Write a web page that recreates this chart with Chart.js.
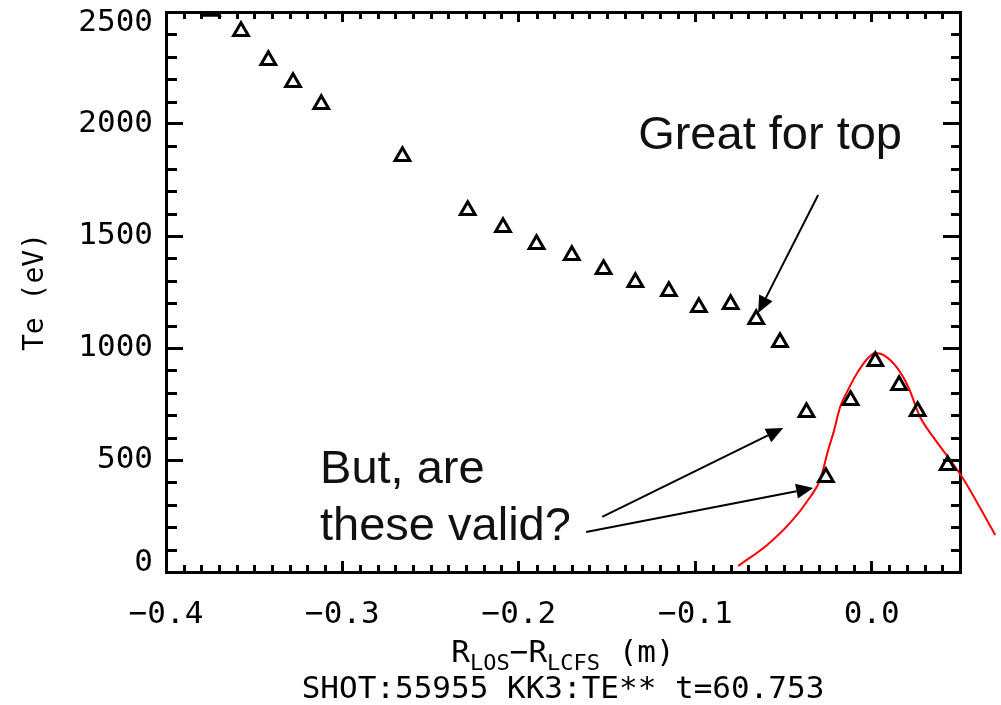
<!DOCTYPE html>
<html><head><meta charset="utf-8">
<script src="https://cdn.jsdelivr.net/npm/chart.js@4.4.0/dist/chart.umd.min.js"></script>
<style>html,body{margin:0;padding:0;background:#fff;overflow:hidden}#wrap{width:1001px;height:705px}</style>
</head><body><div id="wrap"><canvas id="c" width="1001" height="705"></canvas></div>
<script>
// ---- data ----
const xTickValues = [-0.4, -0.3, -0.2, -0.1, 0.0];
const xTickLabels = ['\u22120.4', '\u22120.3', '\u22120.2', '\u22120.1', '0.0'];
const yTickValues = [0, 500, 1000, 1500, 2000, 2500];
const yTickLabels = ['0', '500', '1000', '1500', '2000', '2500'];

const radius = [-0.374, -0.3575, -0.342, -0.328, -0.312, -0.266, -0.229, -0.209, -0.190, -0.170,
                -0.152, -0.134, -0.115, -0.098, -0.080, -0.0655, -0.052, -0.037, -0.026, -0.012,
                0.002, 0.0155, 0.026, 0.043];
const te = [2505, 2414, 2285, 2186, 2088, 1856, 1615, 1539, 1463, 1414,
            1352, 1293, 1253, 1182, 1195, 1128, 1026, 713, 423, 767,
            941, 834, 718, 477];

const fitRadius = [-0.0757, -0.0593, -0.0463, -0.0349, -0.0293, -0.0247, -0.0218, -0.0179, -0.014, -0.0083,
                   -0.0026, 0.0019, 0.0065, 0.0144, 0.0207, 0.0274, 0.0348, 0.0444, 0.0512, 0.0700];
const fitTe = [27, 121, 219, 335, 411, 545, 620, 737, 804, 888,
               951, 978, 969, 911, 826, 692, 603, 500, 424, 165];

const X_MIN = -0.4, X_MAX = 0.05, Y_MIN = 0, Y_MAX = 2500;

// annotations (data coordinates)
const notes = [
  {text: 'Great for top', x: -0.1324, y: 1888},
  {text: 'But, are', x: -0.3127, y: 397},
  {text: 'these valid?', x: -0.3127, y: 143}
];
const arrows = [
  {x0: -0.0304, y0: 1683, x1: -0.0644, y1: 1156},
  {x0: -0.1528, y0: 246, x1: -0.0502, y1: 643},
  {x0: -0.1619, y0: 179, x1: -0.0332, y1: 375}
];
const xTitle = [['R', 0], ['LOS', 1], ['\u2212R', 0], ['LCFS', 1], [' (m)', 0]];
const caption = 'SHOT:55955 KK3:TE** t=60.753';

const MONO = '"DejaVu Sans Mono", monospace';

const extras = {
  id: 'extras',
  beforeDraw(chart) {
    const items = chart.scales.y.getLabelItems();
    items.forEach(it => {
      if (it._adj) return;
      if (it.label === '2500') it.options.translation[1] += 11;
      if (it.label === '0') it.options.translation[1] -= 9;
      it._adj = true;
    });
  },
  afterDraw(chart) {
    const ctx = chart.ctx, xs = chart.scales.x, ys = chart.scales.y, a = chart.chartArea;
    ctx.save();
    ctx.strokeStyle = '#000';
    ctx.lineWidth = 3;
    // minor ticks
    ctx.beginPath();
    for (let i = -40; i <= 5; i++) {
      if (i % 10 === 0) continue;
      const px = Math.round(xs.getPixelForValue(i / 100)) + 0.5;
      ctx.moveTo(px, a.bottom); ctx.lineTo(px, a.bottom - 7);
      ctx.moveTo(px, a.top); ctx.lineTo(px, a.top + 7);
    }
    for (let v = 0; v <= 2500; v += 100) {
      if (v % 500 === 0) continue;
      const py = Math.round(ys.getPixelForValue(v)) + 0.5;
      ctx.moveTo(a.left, py); ctx.lineTo(a.left + 11, py);
      ctx.moveTo(a.right, py); ctx.lineTo(a.right - 9, py);
    }
    ctx.stroke();
    // arrows
    ctx.lineWidth = 2;
    ctx.fillStyle = '#000';
    arrows.forEach(ar => {
      const x0 = xs.getPixelForValue(ar.x0), y0 = ys.getPixelForValue(ar.y0);
      const x1 = xs.getPixelForValue(ar.x1), y1 = ys.getPixelForValue(ar.y1);
      const ang = Math.atan2(y1 - y0, x1 - x0), L = 17, W = 7.5;
      const bx = x1 - L * Math.cos(ang), by = y1 - L * Math.sin(ang);
      ctx.beginPath(); ctx.moveTo(x0, y0); ctx.lineTo(bx, by); ctx.stroke();
      ctx.beginPath();
      ctx.moveTo(x1, y1);
      ctx.lineTo(bx + W * Math.sin(ang), by - W * Math.cos(ang));
      ctx.lineTo(bx - W * Math.sin(ang), by + W * Math.cos(ang));
      ctx.closePath(); ctx.fill();
    });
    // annotation text
    ctx.font = '47px "Liberation Sans", Arial, sans-serif';
    ctx.textAlign = 'left'; ctx.textBaseline = 'alphabetic';
    ctx.fillStyle = '#111';
    notes.forEach(n => ctx.fillText(n.text, xs.getPixelForValue(n.x), ys.getPixelForValue(n.y)));
    // x title with subscripts
    ctx.fillStyle = '#000';
    const big = '31px ' + MONO, small = '22px ' + MONO;
    let total = 0;
    xTitle.forEach(([t, s]) => { ctx.font = s ? small : big; total += ctx.measureText(t).width; });
    let cx = (a.left + a.right) / 2 - total / 2;
    xTitle.forEach(([t, s]) => {
      ctx.font = s ? small : big;
      ctx.fillText(t, cx, s ? 670 : 662);
      cx += ctx.measureText(t).width;
    });
    ctx.font = big;
    ctx.textAlign = 'center';
    ctx.fillText(caption, (a.left + a.right) / 2, 698);
    ctx.restore();
  }
};

const fixTicks = (vals, lo, hi) => (s) => { s.ticks = vals.map(v => ({value: v})); s.min = lo; s.max = hi; };
const noPad = (prop, size) => (s) => { s[prop] = size; s.paddingTop = 0; s.paddingBottom = 0; s.paddingLeft = 0; s.paddingRight = 0; };

new Chart(document.getElementById('c'), {
  type: 'scatter',
  data: {
    datasets: [
      {
        label: 'Te',
        data: radius.map((r, i) => ({x: r, y: te[i]})),
        pointStyle: 'triangle',
        pointRadius: 8.5,
        pointBorderWidth: 3,
        borderColor: '#000',
        backgroundColor: 'rgba(0,0,0,0)',
        showLine: false,
        clip: 0
      },
      {
        label: 'fit',
        data: fitRadius.map((r, i) => ({x: r, y: fitTe[i]})),
        showLine: true,
        borderColor: '#ff0000',
        borderWidth: 2,
        pointRadius: 0,
        cubicInterpolationMode: 'monotone',
        fill: false,
        clip: false
      }
    ]
  },
  options: {
    responsive: false,
    animation: false,
    devicePixelRatio: 1,
    layout: {padding: 0, autoPadding: false},
    plugins: {legend: {display: false}, tooltip: {enabled: false}, title: {display: false}},
    scales: {
      x: {
        type: 'linear', position: 'bottom', bounds: 'data', grace: 0,
        afterDataLimits: s => { s.min = X_MIN; s.max = X_MAX; },
        afterBuildTicks: fixTicks(xTickValues, X_MIN, X_MAX),
        afterFit: noPad('height', 133),
        border: {display: true, color: '#000', width: 3},
        grid: {drawOnChartArea: false, drawTicks: true, tickLength: -11, tickWidth: 3, tickColor: '#000'},
        ticks: {
          padding: 35, color: '#000', font: {family: MONO, size: 31},
          maxRotation: 0, autoSkip: false,
          callback: (v) => { const i = xTickValues.findIndex(t => Math.abs(t - v) < 1e-9); return i >= 0 ? xTickLabels[i] : ''; }
        }
      },
      x2: {
        type: 'linear', position: 'top', min: X_MIN, max: X_MAX,
        afterBuildTicks: fixTicks(xTickValues, X_MIN, X_MAX),
        afterFit: noPad('height', 12),
        border: {display: true, color: '#000', width: 3},
        grid: {drawOnChartArea: false, drawTicks: true, tickLength: -10, tickWidth: 3, tickColor: '#000'},
        ticks: {display: false}
      },
      y: {
        type: 'linear', position: 'left', min: Y_MIN, max: Y_MAX,
        afterBuildTicks: fixTicks(yTickValues, Y_MIN, Y_MAX),
        afterFit: noPad('width', 166),
        border: {display: true, color: '#000', width: 3},
        grid: {drawOnChartArea: false, drawTicks: true, tickLength: -17, tickWidth: 3, tickColor: '#000'},
        title: {display: true, text: 'Te (eV)', color: '#000', font: {family: MONO, size: 28}, padding: {top: 19, bottom: 0}},
        ticks: {
          padding: 30, color: '#000', font: {family: MONO, size: 31}, autoSkip: false,
          callback: (v) => { const i = yTickValues.indexOf(v); return i >= 0 ? yTickLabels[i] : ''; }
        }
      },
      y2: {
        type: 'linear', position: 'right', min: Y_MIN, max: Y_MAX,
        afterBuildTicks: fixTicks(yTickValues, Y_MIN, Y_MAX),
        afterFit: noPad('width', 41),
        border: {display: true, color: '#000', width: 3},
        grid: {drawOnChartArea: false, drawTicks: true, tickLength: -17, tickWidth: 3, tickColor: '#000'},
        ticks: {display: false}
      }
    }
  },
  plugins: [extras]
});
</script>
</body></html>
